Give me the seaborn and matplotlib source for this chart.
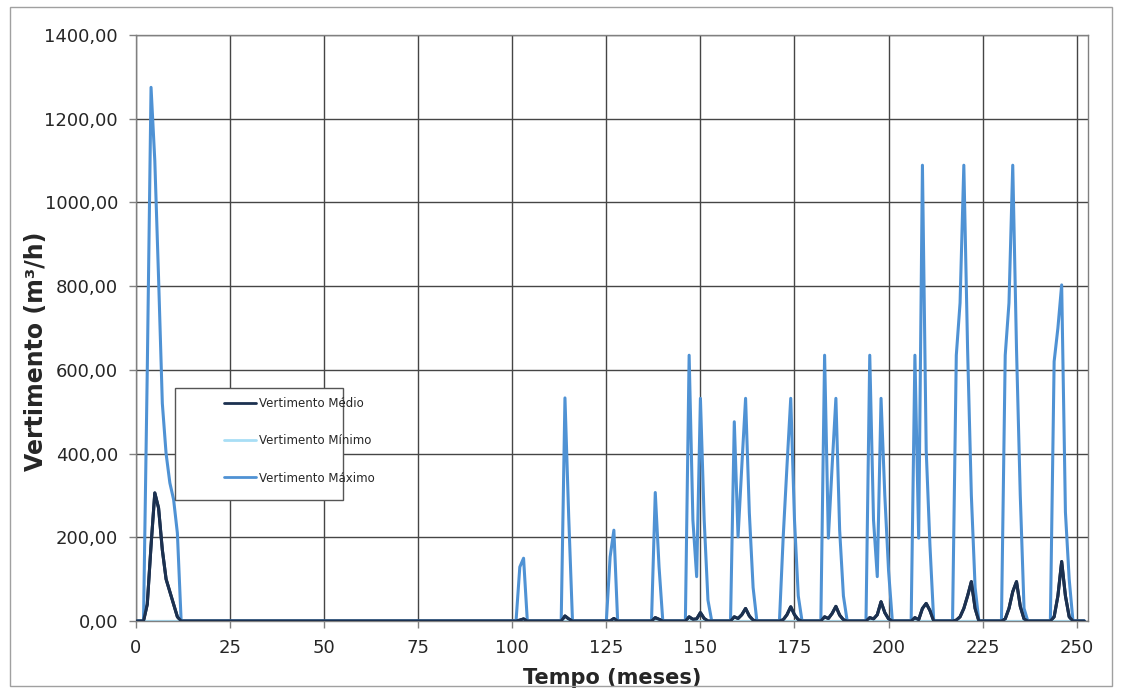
import numpy as np
import pandas as pd
import matplotlib
matplotlib.use("Agg")
import matplotlib.pyplot as plt
from matplotlib.ticker import FuncFormatter, MultipleLocator
from matplotlib.patches import Rectangle
from matplotlib.lines import Line2D
import seaborn as sns

# months 0..252
meses = np.arange(0, 253)

# Vertimento Máximo: non-zero months and values (zero elsewhere)
max_meses = [3, 4, 5, 6, 7, 8, 9, 10, 11,
             102, 103,
             114, 115,
             126, 127,
             138, 139,
             147, 148, 149, 150, 151, 152,
             159, 160, 161, 162, 163, 164,
             172, 173, 174, 175, 176,
             183, 184, 185, 186, 187, 188,
             195, 196, 197, 198, 199, 200,
             207, 208, 209, 210, 211,
             218, 219, 220, 221, 222, 223,
             231, 232, 233, 234, 235, 236,
             244, 245, 246, 247, 248]
max_valores = [600, 1275, 1100, 820, 520, 400, 330, 290, 210,
               129, 150,
               533, 248,
               153, 217,
               307, 130,
               635, 241, 106, 532, 241, 50,
               476, 201, 370, 532, 258, 80,
               201, 370, 532, 241, 60,
               635, 198, 370, 532, 217, 60,
               635, 241, 106, 532, 300, 120,
               635, 198, 1089, 408, 180,
               635, 760, 1089, 650, 300, 80,
               635, 760, 1089, 650, 300, 30,
               620, 700, 803, 260, 100]

# Vertimento Médio: non-zero months and values
med_meses = [3, 4, 5, 6, 7, 8, 9, 10, 11,
             102, 103,
             114, 115,
             127,
             138, 139,
             147, 148, 149, 150, 151,
             159, 160, 161, 162, 163, 164,
             172, 173, 174, 175, 176,
             183, 184, 185, 186, 187, 188,
             195, 196, 197, 198, 199, 200,
             207, 208, 209, 210, 211,
             218, 219, 220, 221, 222, 223,
             231, 232, 233, 234, 235, 236,
             244, 245, 246, 247, 248]
med_valores = [40, 180, 306, 270, 170, 100, 70, 40, 10,
               2, 5,
               12, 5,
               6,
               8, 4,
               10, 4, 5, 20, 6,
               10, 6, 15, 30, 12, 2,
               3, 15, 34, 15, 3,
               10, 6, 18, 35, 14, 3,
               8, 5, 15, 46, 20, 5,
               8, 3, 30, 42, 25,
               2, 10, 30, 60, 94, 30,
               5, 30, 70, 94, 35, 5,
               10, 60, 142, 60, 10]

# Vertimento Mínimo stays at zero
min_valores = np.zeros(len(meses))

series = ["Vertimento Médio", "Vertimento Mínimo", "Vertimento Máximo"]
cores = ["#1c3150", "#a8def5", "#4f92d4"]

maximo = pd.Series(0.0, index=meses)
maximo.loc[max_meses] = max_valores
medio = pd.Series(0.0, index=meses)
medio.loc[med_meses] = med_valores

df = pd.concat([
    pd.DataFrame({"mes": meses, "valor": medio.values, "serie": series[0]}),
    pd.DataFrame({"mes": meses, "valor": min_valores, "serie": series[1]}),
    pd.DataFrame({"mes": meses, "valor": maximo.values, "serie": series[2]}),
])

sns.set_style("white")
plt.rcParams["font.family"] = ["DejaVu Sans"]

fig = plt.figure(figsize=(11.22, 6.91), dpi=100)
ax = fig.add_axes([0.1212, 0.1013, 0.8485, 0.848])

larguras = [2.2, 1.6, 2.2]
for nome, cor, lw in zip(series, cores, larguras):
    sns.lineplot(data=df[df["serie"] == nome], x="mes", y="valor", color=cor,
                 linewidth=lw, ax=ax, legend=False)
# mean drawn again on top so the small bumps stay visible
sns.lineplot(data=df[df["serie"] == series[0]], x="mes", y="valor", color=cores[0],
             linewidth=2.2, ax=ax, legend=False, zorder=5)

ax.set_xlim(0, 253)
ax.set_ylim(0, 1400)
ax.xaxis.set_major_locator(MultipleLocator(25))
ax.yaxis.set_major_locator(MultipleLocator(200))
ax.yaxis.set_major_formatter(FuncFormatter(lambda v, p: f"{v:.2f}".replace(".", ",")))
ax.grid(True, color="#454545", linewidth=1.0)
ax.set_axisbelow(True)
for s in ax.spines.values():
    s.set_color("#808080")
    s.set_linewidth(1.0)
ax.tick_params(axis="both", which="major", direction="out", length=5, width=1,
               color="#808080", labelsize=13, pad=8, left=True, bottom=True)

ax.set_xlabel("Tempo (meses)", fontsize=15, fontweight="bold", labelpad=8)
ax.set_ylabel("Vertimento (m³/h)", fontsize=17, fontweight="bold")
ax.yaxis.set_label_coords(-0.092, 0.46)

# legend box
ax.add_patch(Rectangle((0.041, 0.2065), 0.176, 0.191, transform=ax.transAxes,
                       facecolor="white", edgecolor="#555555", linewidth=1.0, zorder=10))
handles = [Line2D([0], [0], color=c, linewidth=2) for c in cores]
leg = ax.legend(handles, series, loc="upper left", bbox_to_anchor=(0.088, 0.39),
                frameon=False, fontsize=8.5, handlelength=2.7, handletextpad=0.2,
                labelspacing=2.05, borderaxespad=0)
leg.set_zorder(11)

# outer chart border
fig.patches.append(Rectangle((0.009, 0.007), 0.982, 0.983, transform=fig.transFigure,
                             fill=False, edgecolor="#a0a0a0", linewidth=1.0))

fig.savefig("out.png", dpi=100)
